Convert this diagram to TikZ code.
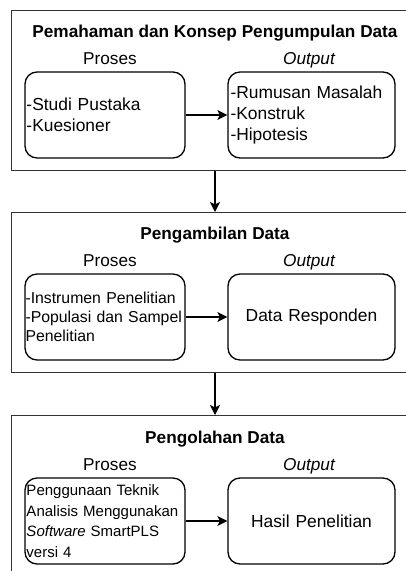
\documentclass[tikz,border=0pt]{standalone}
\usepackage{fontspec}
\setmainfont{Liberation Sans}
\usetikzlibrary{arrows.meta}
\hyphenpenalty=10000
\exhyphenpenalty=10000
\begin{document}
\begin{tikzpicture}[x=1pt,y=-1pt,
  outerbox/.style={draw=black!80, line width=1.4pt, minimum width=406.6pt, inner sep=0pt, anchor=north},
  ibox/.style={draw=black, line width=1.3pt, rounded corners=12pt, inner sep=0pt, minimum height=86pt},
  lbox/.style={ibox, minimum width=160pt, text width=157pt, inner xsep=1.5pt, align=left},
  rbox/.style={ibox, minimum width=167pt, text width=162pt, inner xsep=2.5pt},
  ttl/.style={anchor=base, inner sep=0pt, font=\fontsize{17.2}{21}\selectfont\bfseries},
  lbl/.style={anchor=base, inner sep=0pt, font=\fontsize{17.2}{21}\selectfont},
  big/.style={font=\fontsize{17.4}{21}\selectfont},
  arr/.style={draw=black, line width=1.4pt, -{Stealth[length=10pt,width=10pt,inset=2.5pt]}}
]
\clip (0,0) rectangle (406,571);
\fill[white] (0,0) rectangle (406,571);

% outer frames
\node[outerbox, minimum height=160pt] (B1) at (215,10) {};
\node[outerbox, minimum height=160pt] (B2) at (215,212) {};
\node[outerbox, minimum height=220pt] (B3) at (215,415) {};

% block 1
\node[ttl] (T1) at (215,37.5) {Pemahaman dan Konsep Pengumpulan Data};
\node[lbl] (L1a) at (110,64) {Proses};
\node[lbl] (L1b) at (309,64) {\itshape Output};
\node[lbox, big] (P1) at (105,115) {-Studi Pustaka\\-Kuesioner};
\node[rbox, big, align=left] (O1) at (311.5,115) {-Rumusan Masalah\\-Konstruk\\-Hipotesis};

% block 2
\node[ttl] (T2) at (215,239.5) {Pengambilan Data};
\node[lbl] (L2a) at (110,266) {Proses};
\node[lbl] (L2b) at (309,266) {\itshape Output};
\node[lbox, text width=159pt, inner xsep=0.5pt, font=\fontsize{15.8}{19}\selectfont] (P2) at (105,317) {\mbox{-Instrumen Penelitian}\\\mbox{-Populasi dan Sampel}\\Penelitian};
\node[rbox, big, align=center] (O2) at (311.5,317) {Data Responden};

% block 3
\node[ttl] (T3) at (215,443.5) {Pengolahan Data};
\node[lbl] (L3a) at (110,470) {Proses};
\node[lbl] (L3b) at (309,470) {\itshape Output};
\node[lbox, font=\fontsize{15}{20.5}\selectfont] (P3) at (105,521) {Penggunaan Teknik\\\mbox{Analisis Menggunakan}\\\textit{Software} SmartPLS\\versi 4};
\node[rbox, big, align=center] (O3) at (311.5,521) {Hasil Penelitian};

% connectors
\draw[arr] (P1.east) -- (O1.west);
\draw[arr] (P2.east) -- (O2.west);
\draw[arr] (P3.east) -- (O3.west);
\draw[arr] (B1.south) -- (B2.north);
\draw[arr] (B2.south) -- (B3.north);
\end{tikzpicture}
\end{document}
